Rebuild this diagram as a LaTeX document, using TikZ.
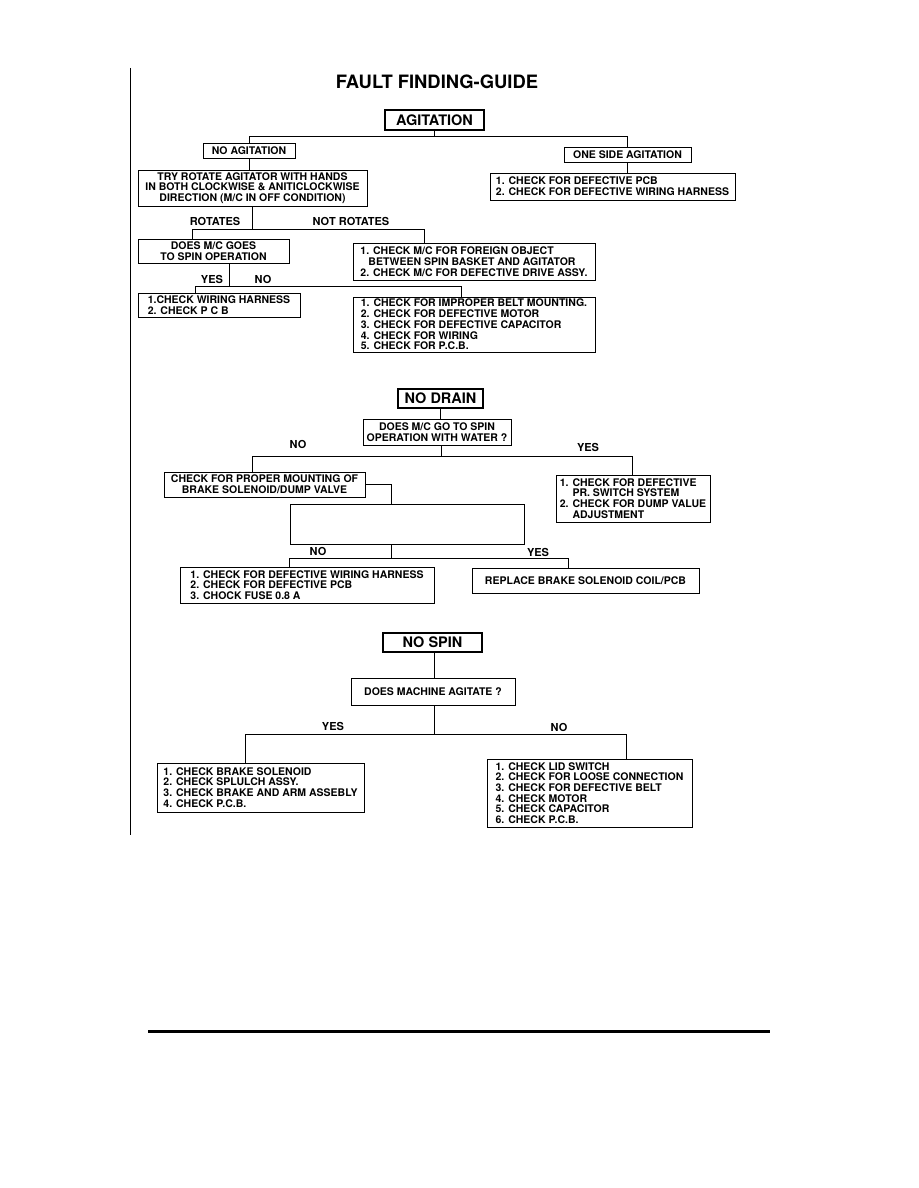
\documentclass[tikz,border=0pt]{standalone}
\usepackage{fontspec}
\setmainfont{TeX Gyre Heros}
\usetikzlibrary{positioning}

\tikzset{
  chk/.style={draw, line width=1pt, inner xsep=2pt, inner ysep=1pt, font=\fontsize{10.5}{10.7}\selectfont\bfseries},
  chkl/.style={chk, align=left},
  chkc/.style={chk, align=center},
  hdr/.style={draw, line width=1.1pt, inner sep=2pt, font=\fontsize{14.5}{16}\selectfont\bfseries},
  ans/.style={font=\fontsize{11}{12}\selectfont\bfseries},
  wire/.style={line width=1pt}
}

\begin{document}
\begin{tikzpicture}[x=1pt, y=-1pt]
  \fill[white] (0,0) rectangle (918,1188);
  \draw[line width=0.8pt] (130,68) -- (130,835);
  \node[font=\fontsize{18.4}{20}\selectfont\bfseries] (title) at (437,82) {FAULT FINDING-GUIDE};

  % Agitation
  \node[hdr, minimum width=99pt, minimum height=20pt] (agit) at (434.5,120) {AGITATION};
  \node[chkc, minimum width=92pt, minimum height=15pt] (noag) at (249,150.5) {NO AGITATION};
  \node[chkc, minimum width=127pt, minimum height=15pt] (onesd) at (627.5,154.5) {ONE SIDE AGITATION};
  \node[chkl, minimum width=245pt, minimum height=27pt] (pcb) at (612.5,186.5)
    {1. CHECK FOR DEFECTIVE PCB\\2. CHECK FOR DEFECTIVE WIRING HARNESS};
  \node[chkc, minimum width=229pt, minimum height=36pt] (tryrot) at (252.5,188)
    {TRY ROTATE AGITATOR WITH HANDS\\IN BOTH CLOCKWISE \& ANITICLOCKWISE\\DIRECTION (M/C IN OFF CONDITION)};
  \node[chkc, minimum width=151pt, minimum height=24pt] (doesmc) at (213.5,251)
    {DOES M/C GOES\\TO SPIN OPERATION};
  \node[chkl, minimum width=242pt, minimum height=37pt] (foreign) at (474,261.5)
    {1. CHECK M/C FOR FOREIGN OBJECT\\\hspace*{8pt}BETWEEN SPIN BASKET AND AGITATOR\\2. CHECK M/C FOR DEFECTIVE DRIVE ASSY.};
  \node[chkl, minimum width=162pt, minimum height=24pt] (wiring) at (219,305)
    {1.CHECK WIRING HARNESS\\2. CHECK P C B};
  \node[chkl, minimum width=242pt, minimum height=55pt] (belt) at (474,324.5)
    {1. CHECK FOR IMPROPER BELT MOUNTING.\\2. CHECK FOR DEFECTIVE MOTOR\\3. CHECK FOR DEFECTIVE CAPACITOR\\4. CHECK FOR WIRING\\5. CHECK FOR P.C.B.};

  \draw[wire] (agit.south) -- ++(0,6) coordinate (agbus) -| (noag.north);
  \draw[wire] (agbus) -| (onesd.north);
  \draw[wire] (onesd.south) -- (onesd.south |- pcb.north);
  \draw[wire] (noag.south) -- (noag.south |- tryrot.north);
  \draw[wire] (tryrot.south) -- ++(0,23) coordinate (rotbus) -| ([xshift=-21.5pt]doesmc.north);
  \draw[wire] (rotbus) -| ([xshift=-50pt]foreign.north);
  \draw[wire] ([xshift=15.5pt]doesmc.south) -- ++(0,23) coordinate (spbus) -| ([xshift=-24pt]wiring.north);
  \draw[wire] (spbus) -| ([xshift=-13pt]belt.north);

  \node[ans] (rotyes) at (215,221) {ROTATES};
  \node[ans] (rotno) at (351,221) {NOT ROTATES};
  \node[ans] (spyes) at (212,279) {YES};
  \node[ans] (spno) at (263,279) {NO};

  % No drain
  \node[hdr, minimum width=85pt, minimum height=19pt] (nodrain) at (440.5,398.5) {NO DRAIN};
  \node[chkc, minimum width=148pt, minimum height=26pt] (water) at (437,432)
    {DOES M/C GO TO SPIN\\OPERATION WITH WATER ?};
  \node[chkc, minimum width=201pt, minimum height=25pt] (mount) at (264.5,484.5)
    {CHECK FOR PROPER MOUNTING OF\\BRAKE SOLENOID/DUMP VALVE};
  \node[chkl, minimum width=154pt, minimum height=47pt] (prsw) at (633,498.5)
    {1. CHECK FOR DEFECTIVE\\\hphantom{1. }PR. SWITCH SYSTEM\\2. CHECK FOR DUMP VALUE\\\hphantom{1. }ADJUSTMENT};
  \node[chk, minimum width=234pt, minimum height=40pt] (blank) at (407,524) {};
  \node[chkl, minimum width=254pt, minimum height=36pt] (harness) at (307,585)
    {1. CHECK FOR DEFECTIVE WIRING HARNESS\\2. CHECK FOR DEFECTIVE PCB\\3. CHOCK FUSE 0.8 A};
  \node[chkc, minimum width=227pt, minimum height=25pt] (replace) at (585.5,580.5)
    {REPLACE BRAKE SOLENOID COIL/PCB};

  \draw[wire] (nodrain.south) -- (nodrain.south |- water.north);
  \draw[wire] ([xshift=4pt]water.south) -- ++(0,11) coordinate (wbus) -| ([xshift=-12.5pt]mount.north);
  \draw[wire] (wbus) -| ([xshift=-1pt]prsw.north);
  \draw[wire] (mount.east) -| ([xshift=-16pt]blank.north);
  \draw[wire] ([xshift=-16pt]blank.south) -- ++(0,14) coordinate (bbus) -| ([xshift=-18pt]harness.north);
  \draw[wire] (bbus) -| ([xshift=-17.5pt]replace.north);

  \node[ans] (wno) at (298,444) {NO};
  \node[ans] (wyes) at (588,447) {YES};
  \node[ans] (bno) at (318,551) {NO};
  \node[ans] (byes) at (538,552) {YES};

  % No spin
  \node[hdr, minimum width=99pt, minimum height=19pt] (nospin) at (432.5,642.5) {NO SPIN};
  \node[chkc, minimum width=164pt, minimum height=27pt] (agitq) at (433,691.5) {DOES MACHINE AGITATE ?};
  \node[chkl, minimum width=207pt, minimum height=49pt] (brake) at (260.5,787.5)
    {1. CHECK BRAKE SOLENOID\\2. CHECK SPLULCH ASSY.\\3. CHECK BRAKE AND ARM ASSEBLY\\4. CHECK P.C.B.};
  \node[chkl, minimum width=205pt, minimum height=68pt] (lid) at (589.5,793)
    {1. CHECK LID SWITCH\\2. CHECK FOR LOOSE CONNECTION\\3. CHECK FOR DEFECTIVE BELT\\4. CHECK MOTOR\\5. CHECK CAPACITOR\\6. CHECK P.C.B.};

  \draw[wire] ([xshift=1.5pt]nospin.south) -- ([xshift=1.5pt]nospin.south |- agitq.north);
  \draw[wire] ([xshift=1pt]agitq.south) -- ++(0,29) coordinate (abus) -| ([xshift=-15.5pt]brake.north);
  \draw[wire] (abus) -| ([xshift=36.5pt]lid.north);

  \node[ans] (ayes) at (333,726) {YES};
  \node[ans] (ano) at (559,727) {NO};

  \draw[line width=3pt] (148,1031) -- (770,1031);
\end{tikzpicture}
\end{document}
